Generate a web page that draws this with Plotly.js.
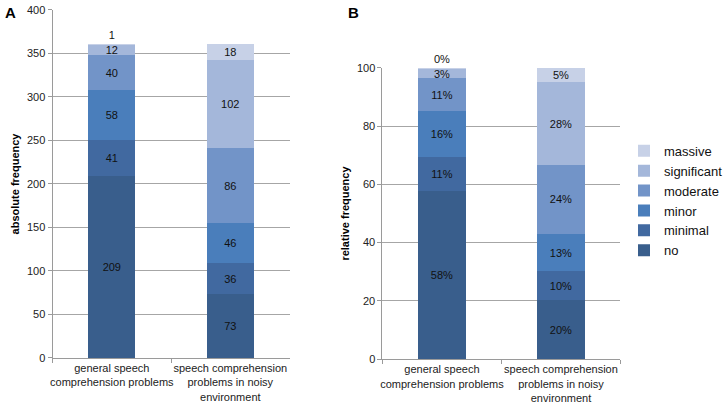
<!DOCTYPE html>
<html>
<head>
<meta charset="utf-8">
<script src="https://cdn.plot.ly/plotly-3.0.1.min.js"></script>
<style>
  html, body { margin: 0; padding: 0; background: #fff; }
  #chart { width: 728px; height: 409px; }
</style>
</head>
<body>
<div id="chart"></div>
<script>
// categories and levels
const categories = ['general speech<br>comprehension problems', 'speech comprehension<br>problems in noisy<br>environment']
const levels = ['no', 'minimal', 'minor', 'moderate', 'significant', 'massive']
const colors = ['#395E8C', '#4169A0', '#4A7EBB', '#7294C8', '#A4B7DA', '#C7D1E7']

// absolute frequency per level, [general, noisy]
const absNo = [209, 73]
const absMinimal = [41, 36]
const absMinor = [58, 46]
const absModerate = [40, 86]
const absSignificant = [12, 102]
const absMassive = [1, 18]

// relative frequency (%) per level, [general, noisy]
const relNo = [57.89, 20.22]
const relMinimal = [11.36, 9.97]
const relMinor = [16.07, 12.74]
const relModerate = [11.08, 23.82]
const relSignificant = [3.32, 28.26]
const relMassive = [0.28, 4.99]

const absSeries = [absNo, absMinimal, absMinor, absModerate, absSignificant, absMassive]
const relSeries = [relNo, relMinimal, relMinor, relModerate, relSignificant, relMassive]

const labelFont = { family: 'Liberation Sans, Arial, sans-serif', size: 11, color: '#111' }

const data = []

function addPanel (series, xa, ya, fmt, legend) {
  series.forEach((vals, i) => {
    const top = i === levels.length - 1
    data.push({
      type: 'bar',
      x: categories,
      y: vals,
      name: levels[i],
      xaxis: xa,
      yaxis: ya,
      width: 0.4,
      showlegend: legend,
      marker: { color: colors[i], line: { width: 0 } },
      text: vals.map(fmt),
      textposition: top ? ['outside', 'inside'] : 'inside',
      insidetextanchor: 'middle',
      constraintext: 'none',
      textfont: labelFont,
      insidetextfont: labelFont,
      outsidetextfont: labelFont,
      cliponaxis: false,
      hoverinfo: 'name+y',
    })
  })
}

addPanel(absSeries, 'x', 'y', v => String(v), false)
addPanel(relSeries, 'x2', 'y2', v => Math.round(v) + '%', true)

const tickFont = { family: 'Liberation Sans, Arial, sans-serif', size: 11, color: '#222' }
const titleFont = { family: 'Liberation Sans, Arial, sans-serif', size: 11, color: '#000', weight: 'bold' }

const xBase = {
  type: 'category',
  showgrid: false,
  showline: true,
  linecolor: '#9a9a9a',
  linewidth: 1,
  ticks: 'outside',
  tickson: 'boundaries',
  ticklen: 4,
  tickcolor: '#9a9a9a',
  tickangle: 0,
  tickfont: tickFont,
  fixedrange: true,
}

const yBase = {
  showgrid: true,
  gridcolor: '#a6a6a6',
  gridwidth: 1,
  showline: true,
  linecolor: '#9a9a9a',
  linewidth: 1,
  ticks: 'outside',
  ticklen: 4,
  tickcolor: '#9a9a9a',
  tickfont: tickFont,
  zeroline: false,
  fixedrange: true,
}

const layout = {
  width: 728,
  height: 409,
  margin: { l: 0, r: 0, t: 0, b: 0 },
  paper_bgcolor: '#fff',
  plot_bgcolor: '#fff',
  barmode: 'stack',
  showlegend: true,
  font: { family: 'Liberation Sans, Arial, sans-serif' },
  xaxis: Object.assign({}, xBase, { domain: [0.0755, 0.416], anchor: 'y' }),
  yaxis: Object.assign({}, yBase, {
    domain: [0.1247, 0.9756],
    anchor: 'x',
    range: [0, 400],
    dtick: 50,
    title: { text: 'absolute frequency', font: titleFont, standoff: 5 },
  }),
  xaxis2: Object.assign({}, xBase, { domain: [0.5495, 0.8915], anchor: 'y2' }),
  yaxis2: Object.assign({}, yBase, {
    domain: [0.122, 0.834],
    anchor: 'x2',
    range: [0, 100],
    dtick: 20,
    title: { text: 'relative frequency', font: titleFont, standoff: 5 },
  }),
  legend: {
    x: 0.897,
    y: 0.668,
    xanchor: 'left',
    yanchor: 'top',
    traceorder: 'reversed',
    font: { family: 'Liberation Sans, Arial, sans-serif', size: 13, color: '#111' },
    itemwidth: 30,
    tracegroupgap: 0,
    bgcolor: 'rgba(0,0,0,0)',
  },
  annotations: [
    { text: '<b>A</b>', xref: 'paper', yref: 'paper', x: 0.005, y: 0.995, xanchor: 'left', yanchor: 'top', showarrow: false, font: { family: 'Liberation Sans, Arial, sans-serif', size: 15, color: '#000' } },
    { text: '<b>B</b>', xref: 'paper', yref: 'paper', x: 0.497, y: 0.995, xanchor: 'left', yanchor: 'top', showarrow: false, font: { family: 'Liberation Sans, Arial, sans-serif', size: 15, color: '#000' } },
  ],
}

const config = { displayModeBar: false, responsive: false, staticPlot: true }

Plotly.newPlot('chart', data, layout, config)
</script>
</body>
</html>
